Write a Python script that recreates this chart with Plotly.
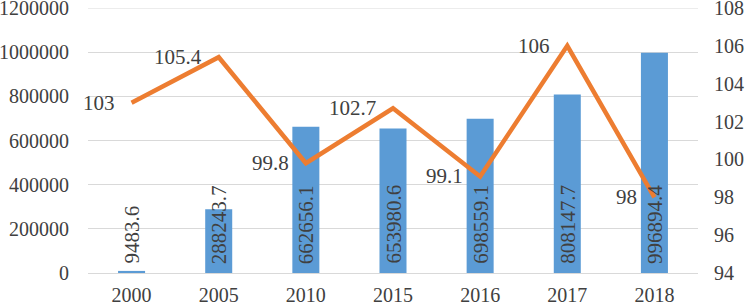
import plotly.graph_objects as go

years = ["2000", "2005", "2010", "2015", "2016", "2017", "2018"]
bar_values = [9483.6, 288243.7, 662656.1, 653980.6, 698559.1, 808147.7, 996894.4]
bar_labels = ["9483.6", "288243.7", "662656.1", "653980.6", "698559.1", "808147.7", "996894.4"]
line_values = [103, 105.4, 99.8, 102.7, 99.1, 106, 98]
line_labels = ["103", "105.4", "99.8", "102.7", "99.1", "106", "98"]
left_ticks = [0, 200000, 400000, 600000, 800000, 1000000, 1200000]
right_ticks = [94, 96, 98, 100, 102, 104, 106, 108]

FONT = "Liberation Serif"
TXT = "#404040"
FS = 20
GRID = "#D9D9D9"
CLEAR = "rgba(0,0,0,0)"

fig = go.Figure()
fig.add_trace(go.Bar(x=years, y=bar_values, marker_color="#5B9BD5",
                     hoverinfo="skip", yaxis="y"))
fig.add_trace(go.Scatter(x=years, y=line_values, mode="lines",
                         line=dict(color="#ED7D31", width=4.5), yaxis="y2"))

annotations = []
for i, t in enumerate(bar_labels):
    annotations.append(dict(x=i, y=0, xref="x", yref="y", text=t, textangle=-90,
                            showarrow=False, yanchor="bottom", xanchor="center",
                            yshift=7, font=dict(family=FONT, size=FS + 1, color=TXT)))
for i, (v, t) in enumerate(zip(line_values, line_labels)):
    annotations.append(dict(x=i, y=v, xref="x", yref="y2", text=t,
                            showarrow=False, xanchor="right", yanchor="middle",
                            xshift=-15, font=dict(family=FONT, size=FS + 1, color=TXT)))

fig.add_shape(type="line", xref="paper", yref="y", x0=0, x1=1,
              y0=left_ticks[-1], y1=left_ticks[-1],
              line=dict(color=GRID, width=1), layer="below")

fig.update_layout(
    template="none",
    width=747, height=306,
    margin=dict(l=88, r=49, t=8, b=33, autoexpand=False),
    plot_bgcolor="white", paper_bgcolor="white",
    showlegend=False,
    font=dict(family=FONT, size=FS, color=TXT),
    bargap=0.69,
    xaxis=dict(type="category", categoryorder="array", categoryarray=years,
               range=[-0.5, 6.5], showgrid=False, showline=False, zeroline=False,
               automargin=False,
               ticks="outside", ticklen=4, tickcolor=CLEAR,
               tickfont=dict(family=FONT, size=FS, color=TXT)),
    yaxis=dict(range=[0, 1200000.5], tickvals=left_ticks,
               ticktext=[str(t) for t in left_ticks],
               showgrid=True, gridcolor=GRID, gridwidth=1,
               zeroline=True, zerolinecolor=GRID, zerolinewidth=1,
               showline=False, automargin=False,
               ticks="outside", ticklen=14, tickcolor=CLEAR,
               ticklabeloverflow="allow",
               tickfont=dict(family=FONT, size=FS, color=TXT)),
    yaxis2=dict(range=[94, 108.00001], tickvals=right_ticks, overlaying="y", side="right",
                showgrid=False, zeroline=False, showline=False, automargin=False,
                ticks="outside", ticklen=11, tickcolor=CLEAR,
                ticklabeloverflow="allow",
                tickfont=dict(family=FONT, size=FS, color=TXT)),
    annotations=annotations,
)

fig.write_html("out.html", config={"displayModeBar": False},
               post_script="document.body.style.margin='0';")
